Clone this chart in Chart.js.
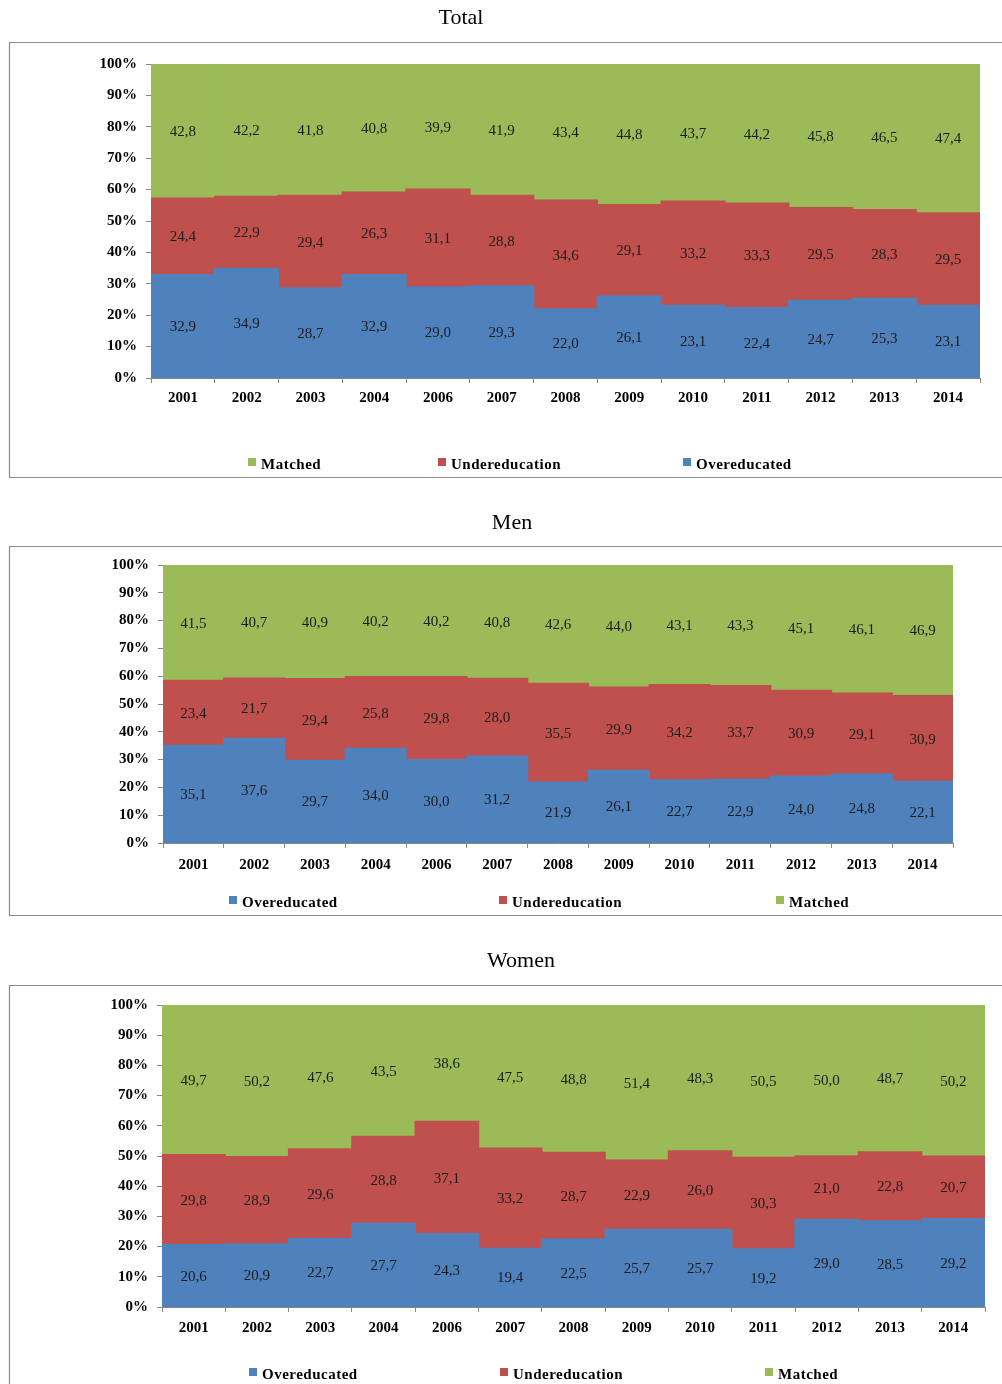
<!DOCTYPE html>
<html>
<head>
<meta charset="utf-8">
<script src="https://cdn.jsdelivr.net/npm/chart.js@4.4.1/dist/chart.umd.min.js"></script>
<style>
  html, body { margin: 0; padding: 0; background: #fff; }
  body { width: 1002px; height: 1384px; position: relative; overflow: hidden; }
  canvas { position: absolute; left: 0; }
</style>
</head>
<body>
<canvas id="cTotal"></canvas>
<canvas id="cMen"></canvas>
<canvas id="cWomen"></canvas>
<script>
// Survey years (2005 not surveyed)
const years = ['2001','2002','2003','2004','2006','2007','2008','2009','2010','2011','2012','2013','2014'];
const seriesNames = ['Overeducated', 'Undereducation', 'Matched'];
const yTicks = [0, 10, 20, 30, 40, 50, 60, 70, 80, 90, 100];

// Total
const totalOver    = [32.9, 34.9, 28.7, 32.9, 29.0, 29.3, 22.0, 26.1, 23.1, 22.4, 24.7, 25.3, 23.1];
const totalUnder   = [24.4, 22.9, 29.4, 26.3, 31.1, 28.8, 34.6, 29.1, 33.2, 33.3, 29.5, 28.3, 29.5];
const totalMatched = [42.8, 42.2, 41.8, 40.8, 39.9, 41.9, 43.4, 44.8, 43.7, 44.2, 45.8, 46.5, 47.4];

// Men
const menOver    = [35.1, 37.6, 29.7, 34.0, 30.0, 31.2, 21.9, 26.1, 22.7, 22.9, 24.0, 24.8, 22.1];
const menUnder   = [23.4, 21.7, 29.4, 25.8, 29.8, 28.0, 35.5, 29.9, 34.2, 33.7, 30.9, 29.1, 30.9];
const menMatched = [41.5, 40.7, 40.9, 40.2, 40.2, 40.8, 42.6, 44.0, 43.1, 43.3, 45.1, 46.1, 46.9];

// Women
const womenOver    = [20.6, 20.9, 22.7, 27.7, 24.3, 19.4, 22.5, 25.7, 25.7, 19.2, 29.0, 28.5, 29.2];
const womenUnder   = [29.8, 28.9, 29.6, 28.8, 37.1, 33.2, 28.7, 22.9, 26.0, 30.3, 21.0, 22.8, 20.7];
const womenMatched = [49.7, 50.2, 47.6, 43.5, 38.6, 47.5, 48.8, 51.4, 48.3, 50.5, 50.0, 48.7, 50.2];

const COLORS = ['#4F81BD', '#C0504D', '#9BBB59'];
const SERIF = '"Liberation Serif", "Times New Roman", serif';
const AXIS_GRAY = '#868686';

const fmt = v => v.toFixed(1).replace('.', ',');

// Frame, title, centred value labels and a spaced legend for each panel
const panelDecor = {
  id: 'panelDecor',
  afterDatasetsDraw(chart) {
    const ctx = chart.ctx;
    ctx.save();
    ctx.font = '15px ' + SERIF;
    ctx.fillStyle = '#1b1b1b';
    ctx.textAlign = 'center';
    ctx.textBaseline = 'middle';
    chart.data.datasets.forEach((ds, i) => {
      const meta = chart.getDatasetMeta(i);
      meta.data.forEach((bar, j) => {
        const top = Math.max(bar.y, chart.chartArea.top);
        ctx.fillText(fmt(ds.data[j]), bar.x, (top + bar.base) / 2 + 1);
      });
    });
    ctx.restore();
  },
  afterDraw(chart) {
    const ctx = chart.ctx;
    const d = chart.options.plugins.panelDecor;
    ctx.save();
    // frame
    ctx.strokeStyle = '#8c8c8c';
    ctx.lineWidth = 1.2;
    ctx.beginPath();
    ctx.moveTo(1010, d.boxTop);
    ctx.lineTo(9.5, d.boxTop);
    ctx.lineTo(9.5, d.boxBottom);
    ctx.lineTo(1010, d.boxBottom);
    ctx.stroke();
    // title
    ctx.fillStyle = '#000';
    ctx.font = '22px ' + SERIF;
    ctx.textAlign = 'center';
    ctx.textBaseline = 'middle';
    ctx.fillText(d.title, d.titleX, d.titleY);
    // legend
    ctx.font = 'bold 15px ' + SERIF;
    ctx.textAlign = 'left';
    ctx.letterSpacing = '0.5px';
    d.legendOrder.forEach((dsIndex, k) => {
      const ds = chart.data.datasets[dsIndex];
      const x = d.legendX[k];
      ctx.fillStyle = ds.backgroundColor;
      ctx.fillRect(x, d.legendY - 6, 8, 8);
      ctx.fillStyle = '#000';
      ctx.fillText(ds.label, x + 13, d.legendY + 1);
    });
    ctx.restore();
  }
};

function makePanel(id, canvasTop, canvasH, area, decor, over, under, matched) {
  const cv = document.getElementById(id);
  cv.style.top = canvasTop + 'px';
  cv.style.width = '1002px';
  cv.style.height = canvasH + 'px';
  cv.width = 1002;
  cv.height = canvasH;
  const xAxisH = 30;
  const values = [over, under, matched];
  new Chart(cv, {
    type: 'bar',
    data: {
      labels: years,
      datasets: values.map((vals, i) => ({
        label: seriesNames[i],
        data: vals,
        backgroundColor: COLORS[i],
        borderWidth: 0,
        inflateAmount: 0.7,
        barPercentage: 1.0,
        categoryPercentage: 1.0
      }))
    },
    options: {
      responsive: false,
      animation: false,
      devicePixelRatio: 1,
      layout: {
        padding: {
          left: 0,
          right: 1002 - area.right,
          top: area.top - canvasTop,
          bottom: canvasH - (area.bottom - canvasTop) - xAxisH
        }
      },
      plugins: {
        legend: { display: false },
        title: { display: false },
        tooltip: { enabled: false },
        panelDecor: decor
      },
      scales: {
        x: {
          stacked: true,
          afterFit(s) { s.height = xAxisH; },
          grid: { display: true, drawOnChartArea: false, offset: true, tickLength: 5, color: AXIS_GRAY },
          border: { display: true, color: AXIS_GRAY, width: 1 },
          ticks: { color: '#000', padding: area.xPad, maxRotation: 0, font: { family: SERIF, size: 15, weight: 'bold' } }
        },
        y: {
          stacked: true,
          min: 0,
          max: 100,
          afterFit(s) { s.width = area.left; },
          afterBuildTicks(s) { s.ticks = yTicks.map(v => ({ value: v })); },
          grid: { display: true, drawOnChartArea: false, tickLength: 5, color: AXIS_GRAY },
          border: { display: true, color: AXIS_GRAY, width: 1 },
          ticks: { color: '#000', padding: 9, callback: v => v + '%', font: { family: SERIF, size: 15, weight: 'bold' } }
        }
      }
    },
    plugins: [panelDecor]
  });
}

makePanel('cTotal', 0, 482,
  { left: 151, right: 980, top: 64, bottom: 378, xPad: 6 },
  { title: 'Total', titleX: 461, titleY: 18, boxTop: 42.5, boxBottom: 477.5,
    legendOrder: [2, 1, 0], legendX: [248, 438, 683], legendY: 464 },
  totalOver, totalUnder, totalMatched);

makePanel('cMen', 482, 438,
  { left: 163, right: 953, top: 565, bottom: 843, xPad: 8 },
  { title: 'Men', titleX: 512, titleY: 523 - 482, boxTop: 546.5 - 482, boxBottom: 915.5 - 482,
    legendOrder: [0, 1, 2], legendX: [229, 499, 776], legendY: 902 - 482 },
  menOver, menUnder, menMatched);

makePanel('cWomen', 920, 464,
  { left: 162, right: 985, top: 1005, bottom: 1307, xPad: 7 },
  { title: 'Women', titleX: 521, titleY: 961 - 920, boxTop: 985.5 - 920, boxBottom: 2000,
    legendOrder: [0, 1, 2], legendX: [249, 500, 765], legendY: 1374 - 920 },
  womenOver, womenUnder, womenMatched);
</script>
</body>
</html>
